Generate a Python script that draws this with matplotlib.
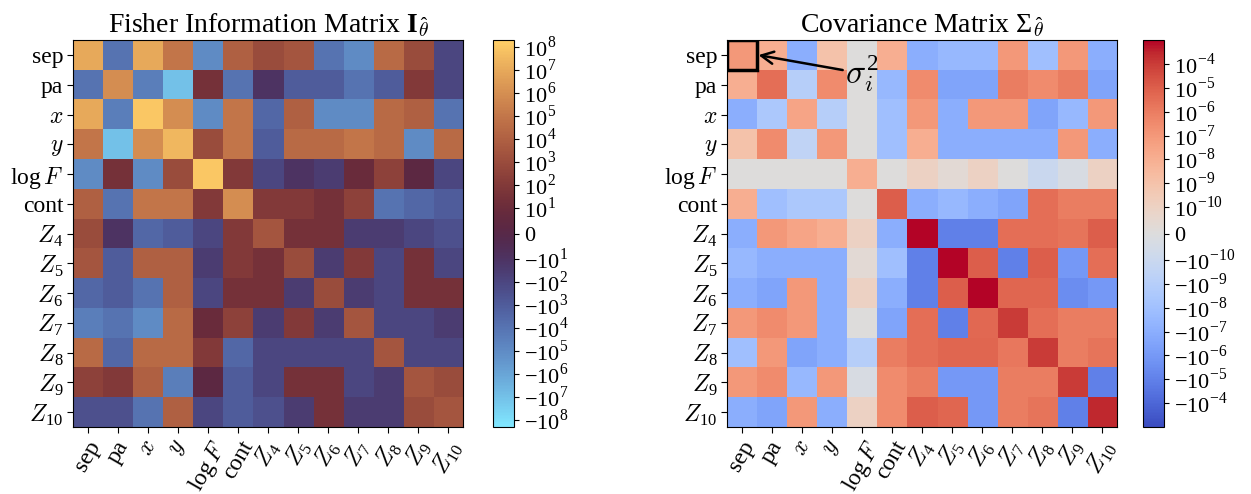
import numpy as np
import matplotlib
matplotlib.use("Agg")
import matplotlib.pyplot as plt
from matplotlib.colors import SymLogNorm
from matplotlib.patches import Rectangle

# Times-like text, Computer Modern italic letters in math
plt.rcParams['font.family'] = 'Liberation Serif'
plt.rcParams['mathtext.fontset'] = 'custom'
plt.rcParams['mathtext.rm'] = 'Liberation Serif'
plt.rcParams['mathtext.it'] = 'cmmi10'
plt.rcParams['mathtext.bf'] = 'Liberation Serif:bold'
plt.rcParams['mathtext.fallback'] = 'cm'

params = ['sep', 'pa', '$x$', '$y$', r'$\log F$', 'cont', '$Z_4$', '$Z_5$',
          '$Z_6$', '$Z_7$', '$Z_8$', '$Z_9$', '$Z_{10}$']

# Fisher information (order of magnitude)
fisher = [
    [1e7, -1e4, 1e7, 1e5, -1e5, 1e4, 1e3, 3e3, -1e4, -1e5, 3e4, 1e3, -1e2],
    [-1e4, 1e6, -3e4, -1e7, 3e1, -1e4, -1e1, -1e3, -1e3, -1e4, -1e3, 1e2, -1e2],
    [1e7, -3e4, 1e8, 1e6, -1e5, 1e5, -3e3, 1e4, -1e5, -1e5, 3e4, 1e4, -1e4],
    [1e5, -1e7, 1e6, 3e7, 1e3, 1e5, -1e3, 3e4, 3e4, 1e5, 3e4, -1e5, 3e4],
    [-1e5, 3e1, -1e5, 1e3, 1e8, 1e2, -1e2, -1e1, -3e1, 1e1, 3e2, 3, -1e2],
    [1e4, -1e4, 1e5, 1e5, 1e2, 1e6, 1e2, 1e2, 3e1, 3e2, -1e4, -3e3, -1e3],
    [1e3, -1e1, -3e3, -1e3, -1e2, 1e2, 3e3, 3e1, 3e1, -3e1, -3e1, -1e2, -3e2],
    [3e3, -1e3, 1e4, 1e4, -3e1, 1e2, 3e1, 1e3, -3e1, 1e2, -1e2, 3e1, -1e2],
    [-3e3, -1e3, -1e4, 1e4, -1e2, 3e1, 3e1, -3e1, 1e3, -3e1, -1e2, 3e1, 3e1],
    [-3e4, -1e4, -1e5, 3e4, 1e1, 3e2, -3e1, 1e2, -3e1, 3e3, -1e2, -1e2, -3e1],
    [3e4, -3e3, 3e4, 3e4, 1e2, -3e3, -1e2, -1e2, -1e2, -1e2, 3e3, -1e2, -1e2],
    [3e2, 1e2, 1e4, -3e4, 3, -1e3, -1e2, 3e1, 3e1, -1e2, -3e1, 3e3, 1e3],
    [-3e2, -3e2, -1e4, 1e4, -1e2, -1e3, -3e2, -3e1, 3e1, -3e1, -3e1, 1e3, 3e3],
]

# covariance matrix
cov = [
    [1e-7, 1e-8, -1e-7, 1e-9, 0, 1e-8, -1e-7, -3e-8, -3e-8, 1e-7, -1e-8, 1e-7, -1e-7],
    [1e-8, 3e-6, -1e-9, 3e-7, 0, -3e-8, 3e-7, -3e-7, -3e-7, 1e-6, 3e-7, 1e-6, -3e-7],
    [-1e-7, -3e-9, 3e-8, -1e-9, 0, -1e-8, 1e-7, -1e-7, 1e-7, 1e-7, -3e-7, -3e-8, 1e-7],
    [1e-9, 3e-7, -3e-10, 1e-7, 0, -1e-8, 1e-8, -1e-7, -1e-7, -1e-7, -1e-7, 1e-7, -1e-7],
    [0, 0, 0, 0, 1e-8, 0, 1e-10, 3e-11, 1e-10, 0, -1e-10, -3e-11, 1e-10],
    [1e-8, -1e-8, -3e-9, -3e-9, 0, 1e-5, -1e-7, -3e-8, -1e-7, -3e-7, 3e-6, 1e-6, 1e-6],
    [-1e-7, 1e-7, 3e-8, 1e-8, 1e-10, -1e-7, 1e-3, -1e-5, -1e-5, 3e-6, 3e-6, 2e-6, 1e-5],
    [-3e-8, -1e-7, -1e-7, -1e-7, 3e-11, -1e-8, -1e-5, 1e-3, 1e-5, -1e-5, 1e-5, -1e-6, 3e-6],
    [-1e-7, -3e-7, 1e-7, -1e-7, 1e-10, -1e-7, -1e-5, 1e-5, 1e-3, 6e-6, 6e-6, -3e-6, -1e-6],
    [1e-7, 3e-7, 1e-7, -1e-7, 0, -3e-7, 3e-6, -1e-5, 5e-6, 1e-4, 3e-6, 1e-6, 1e-6],
    [-1e-8, 1e-7, -3e-7, -1e-7, -1e-9, 1e-6, 3e-6, 6e-6, 6e-6, 1.5e-6, 1e-4, 1e-6, 2e-6],
    [1e-7, 3e-7, -3e-8, 1e-7, -3e-11, 3e-7, 1e-6, -1e-6, -1e-6, 1e-6, 1e-6, 1e-4, -1e-5],
    [-1e-7, -3e-7, 1e-7, -1e-7, 1e-10, 3e-7, 1e-5, 6e-6, -1e-6, 1e-6, 2e-6, -1e-5, 3e-4],
]

fisher_ticks = [10.0**k for k in range(8, 0, -1)] + [0] + [-10.0**k for k in range(1, 9)]
fisher_labels = ['$10^{%d}$' % k for k in range(8, 0, -1)] + ['0'] + \
    ['$-10^{%d}$' % k for k in range(1, 9)]
cov_ticks = [10.0**k for k in range(-4, -11, -1)] + [0] + [-10.0**k for k in range(-10, -3)]
cov_labels = ['$10^{%d}$' % k for k in range(-4, -11, -1)] + ['0'] + \
    ['$-10^{%d}$' % k for k in range(-10, -3)]

fig = plt.figure(figsize=(12.51, 4.94), dpi=100)
ax1 = fig.add_axes([0.0584, 0.1356, 0.3118, 0.783])
cax1 = fig.add_axes([0.394, 0.1356, 0.0168, 0.783])
ax2 = fig.add_axes([0.5811, 0.1356, 0.3118, 0.783])
cax2 = fig.add_axes([0.9137, 0.1356, 0.0168, 0.783])

norm1 = SymLogNorm(linthresh=10, linscale=1, vmin=-2e8, vmax=2e8, base=10)
im1 = ax1.imshow(np.array(fisher), cmap='managua_r', norm=norm1, aspect='auto')
norm2 = SymLogNorm(linthresh=1e-10, linscale=1, vmin=-1e-3, vmax=1e-3, base=10)
im2 = ax2.imshow(np.array(cov), cmap='coolwarm', norm=norm2, aspect='auto')

for ax in (ax1, ax2):
    ax.set_xticks(range(len(params)))
    ax.set_xticklabels(params, rotation=60, fontsize=17)
    ax.set_yticks(range(len(params)))
    ax.set_yticklabels(params, fontsize=17)
    ax.tick_params(length=4, pad=3)

ax1.set_title(r'Fisher Information Matrix $\mathbf{I}_{\hat{\theta}}$', fontsize=20, pad=6)
ax2.set_title(r'Covariance Matrix $\Sigma_{\hat{\theta}}$', fontsize=20, pad=6)

cb1 = fig.colorbar(im1, cax=cax1)
cb1.set_ticks(fisher_ticks)
cb1.set_ticklabels(fisher_labels, fontsize=16)
cb1.minorticks_off()
cb2 = fig.colorbar(im2, cax=cax2)
cb2.set_ticks(cov_ticks)
cb2.set_ticklabels(cov_labels, fontsize=16)
cb2.minorticks_off()

# highlight a diagonal element
ax2.add_patch(Rectangle((-0.5, -0.5), 1, 1, fill=False, edgecolor='black', linewidth=2.5))
ax2.annotate(r'$\sigma_i^2$', xy=(0.55, 0.0), xytext=(3.45, 0.95), fontsize=24,
             arrowprops=dict(arrowstyle='->', color='black', lw=1.8, mutation_scale=22,
                             shrinkA=0, shrinkB=0))

plt.savefig('out.png', dpi=100)
